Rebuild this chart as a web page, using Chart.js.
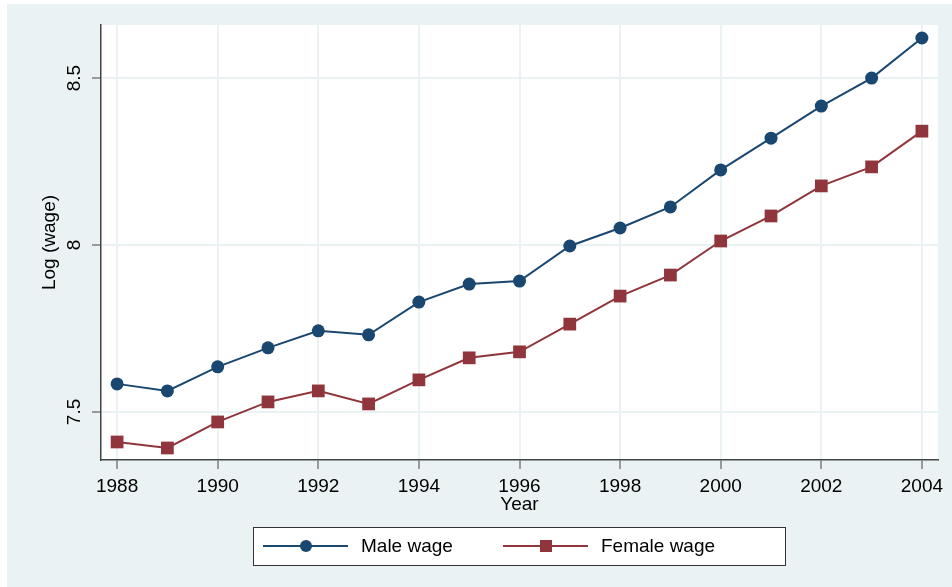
<!DOCTYPE html>
<html>
<head>
<meta charset="utf-8">
<script src="https://cdn.jsdelivr.net/npm/chart.js@4.4.1/dist/chart.umd.min.js"></script>
<style>
  html, body { margin: 0; padding: 0; background: #fff; }
  #wrap { width: 952px; height: 587px; position: relative; }
</style>
</head>
<body>
<div id="wrap"><canvas id="wage-chart"></canvas></div>
<script>
const years = [1988, 1989, 1990, 1991, 1992, 1993, 1994, 1995, 1996, 1997, 1998, 1999, 2000, 2001, 2002, 2003, 2004];
const maleWage = [7.584, 7.563, 7.635, 7.692, 7.743, 7.731, 7.829, 7.883, 7.892, 7.997, 8.051, 8.114, 8.225, 8.320, 8.416, 8.500, 8.620];
const femaleWage = [7.410, 7.392, 7.470, 7.530, 7.563, 7.524, 7.596, 7.662, 7.680, 7.763, 7.847, 7.910, 8.012, 8.087, 8.177, 8.234, 8.341];
const yearTicks = [1988, 1990, 1992, 1994, 1996, 1998, 2000, 2002, 2004];
const wageTicks = [7.5, 8, 8.5];

const fontFamily = "'Liberation Sans', Arial, Helvetica, sans-serif";
const maleColor = "#1a476f";
const femaleColor = "#90353b";
const panelColor = "#eaf2f3";
const axisColor = "#444";

function toPoints(values) {
  return years.map((year, i) => ({ x: year, y: values[i] }));
}

// background panel, white plot region, rotated y tick labels, boxed legend
const stataLook = {
  id: "stataLook",
  beforeDraw(chart) {
    const { ctx, chartArea, width, height } = chart;
    ctx.save();
    ctx.fillStyle = "#fff";
    ctx.fillRect(0, 0, width, height);
    ctx.fillStyle = panelColor;
    ctx.fillRect(7, 4, width - 7, height - 4);
    ctx.fillStyle = "#fff";
    ctx.fillRect(chartArea.left, chartArea.top, chartArea.right - chartArea.left, chartArea.bottom - chartArea.top);
    ctx.restore();
  },
  afterDraw(chart) {
    const { ctx } = chart;
    const yScale = chart.scales.y;
    ctx.save();
    ctx.fillStyle = "#000";
    ctx.font = `19px ${fontFamily}`;
    ctx.textAlign = "center";
    ctx.textBaseline = "middle";
    wageTicks.forEach((v) => {
      ctx.save();
      ctx.translate(75, yScale.getPixelForValue(v));
      ctx.rotate(-Math.PI / 2);
      ctx.fillText(String(v), 0, 0);
      ctx.restore();
    });

    // legend
    ctx.fillStyle = "#fff";
    ctx.fillRect(253.5, 527.5, 532, 38);
    ctx.strokeStyle = "#333";
    ctx.lineWidth = 1;
    ctx.strokeRect(253.5, 527.5, 532, 38);
    const items = [
      { x: 263, label: chart.data.datasets[0].label, color: maleColor, square: false },
      { x: 503, label: chart.data.datasets[1].label, color: femaleColor, square: true },
    ];
    const ly = 546;
    items.forEach((item) => {
      ctx.strokeStyle = item.color;
      ctx.lineWidth = 2;
      ctx.beginPath();
      ctx.moveTo(item.x, ly);
      ctx.lineTo(item.x + 85, ly);
      ctx.stroke();
      ctx.fillStyle = item.color;
      if (item.square) {
        ctx.fillRect(item.x + 43 - 6, ly - 6, 12, 12);
      } else {
        ctx.beginPath();
        ctx.arc(item.x + 43, ly, 6, 0, Math.PI * 2);
        ctx.fill();
      }
      ctx.fillStyle = "#000";
      ctx.textAlign = "left";
      ctx.fillText(item.label, item.x + 98, ly + 1);
    });
    ctx.restore();
  },
};

function buildChart() {
  const canvas = document.getElementById("wage-chart");
  return new Chart(canvas.getContext("2d"), {
    type: "line",
    data: {
      datasets: [
        {
          label: "Male wage",
          data: toPoints(maleWage),
          borderColor: maleColor,
          backgroundColor: maleColor,
          borderWidth: 2,
          pointStyle: "circle",
          pointRadius: 6.5,
          pointBorderWidth: 0,
          tension: 0,
        },
        {
          label: "Female wage",
          data: toPoints(femaleWage),
          borderColor: femaleColor,
          backgroundColor: femaleColor,
          borderWidth: 2,
          pointStyle: "rect",
          pointRadius: 9,
          pointBorderWidth: 0,
          tension: 0,
        },
      ],
    },
    options: {
      responsive: true,
      maintainAspectRatio: false,
      animation: false,
      layout: { padding: { left: 30, top: 25, right: 14, bottom: 71 } },
      scales: {
        x: {
          type: "linear",
          min: 1987.68,
          max: 2004.32,
          afterBuildTicks: (scale) => {
            scale.ticks = yearTicks.map((v) => ({ value: v }));
          },
          afterFit: (scale) => {
            scale.height = 56;
          },
          ticks: {
            color: "#000",
            font: { family: fontFamily, size: 19 },
            padding: 6,
            maxRotation: 0,
            autoSkip: false,
            callback: (v) => String(v),
          },
          grid: { color: panelColor, lineWidth: 2, tickLength: 9, tickColor: axisColor, tickWidth: 1 },
          border: { color: axisColor, width: 1.5 },
          title: {
            display: true,
            text: "Year",
            color: "#000",
            font: { family: fontFamily, size: 19 },
            padding: { top: 0, bottom: 0 },
          },
        },
        y: {
          min: 7.356,
          max: 8.659,
          afterBuildTicks: (scale) => {
            scale.ticks = wageTicks.map((v) => ({ value: v }));
          },
          afterFit: (scale) => {
            scale.width = 71;
          },
          ticks: { display: false },
          grid: { color: panelColor, lineWidth: 2, tickLength: 9, tickColor: axisColor, tickWidth: 1 },
          border: { color: axisColor, width: 1.5 },
          title: {
            display: true,
            text: "Log (wage)",
            color: "#000",
            font: { family: fontFamily, size: 19 },
            padding: { top: 8.6, bottom: 0 },
          },
        },
      },
      plugins: {
        legend: { display: false },
        tooltip: { enabled: false },
      },
    },
    plugins: [stataLook],
  });
}

window.addEventListener("DOMContentLoaded", buildChart);
</script>
</body>
</html>
